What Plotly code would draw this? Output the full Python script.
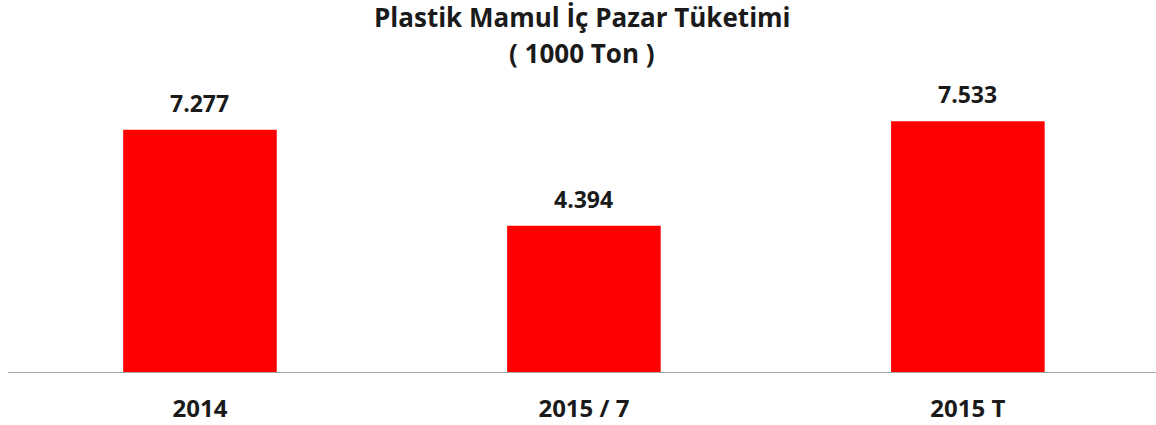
import plotly.graph_objects as go

categories = ["2014", "2015 / 7", "2015 T"]
values = [7277, 4394, 7533]
value_labels = ["7.277", "4.394", "7.533"]
title_line1 = "Plastik Mamul İç Pazar Tüketimi"
title_line2 = "( 1000 Ton )"

FONT = "Open Sans"
TXT = "#1a1a1a"

W, H = 1156, 425
ml, mr, mt, mb = 8, 0, 80, 53
ph = H - mt - mb

def ypaper(ypix):
    return (H - mb - ypix) / ph

fig = go.Figure(go.Bar(
    x=categories, y=values,
    marker=dict(color="#FF0000", line=dict(width=0)),
    hoverinfo="x+y",
))

# value labels placed on the category axis by category index
annotations = [
    dict(x=i, y=v, text=t, xref="x", yref="y", showarrow=False,
         xanchor="center", yanchor="middle", yshift=27,
         font=dict(family=FONT, size=23, color=TXT, weight="bold"))
    for i, (v, t) in enumerate(zip(values, value_labels))
]
annotations += [
    dict(text=title_line1, x=0.5, y=ypaper(17), xref="paper", yref="paper",
         xanchor="center", yanchor="middle", showarrow=False,
         font=dict(family=FONT, size=26, color=TXT, weight="bold")),
    dict(text=title_line2, x=0.5, y=ypaper(53), xref="paper", yref="paper",
         xanchor="center", yanchor="middle", showarrow=False,
         font=dict(family=FONT, size=26, color=TXT, weight="bold")),
]

fig.update_layout(
    width=W, height=H,
    margin=dict(l=ml, r=mr, t=mt, b=mb),
    paper_bgcolor="white", plot_bgcolor="white",
    bargap=0.6,
    showlegend=False,
    xaxis=dict(type="category", categoryorder="array", categoryarray=categories,
               range=[-0.5, 2.49],
               showline=True, linecolor="#A6A6A6", linewidth=1,
               ticks="outside", ticklen=15, tickcolor="rgba(0,0,0,0)",
               tickfont=dict(family=FONT, size=24, color=TXT, weight="bold"),
               showgrid=False, fixedrange=True),
    yaxis=dict(range=[0, 8770], visible=False, showgrid=False, zeroline=False),
    annotations=annotations,
)

fig.write_html(
    "out.html",
    config={"displayModeBar": False},
    post_script="document.body.style.margin='0';document.body.style.overflow='hidden';",
)
